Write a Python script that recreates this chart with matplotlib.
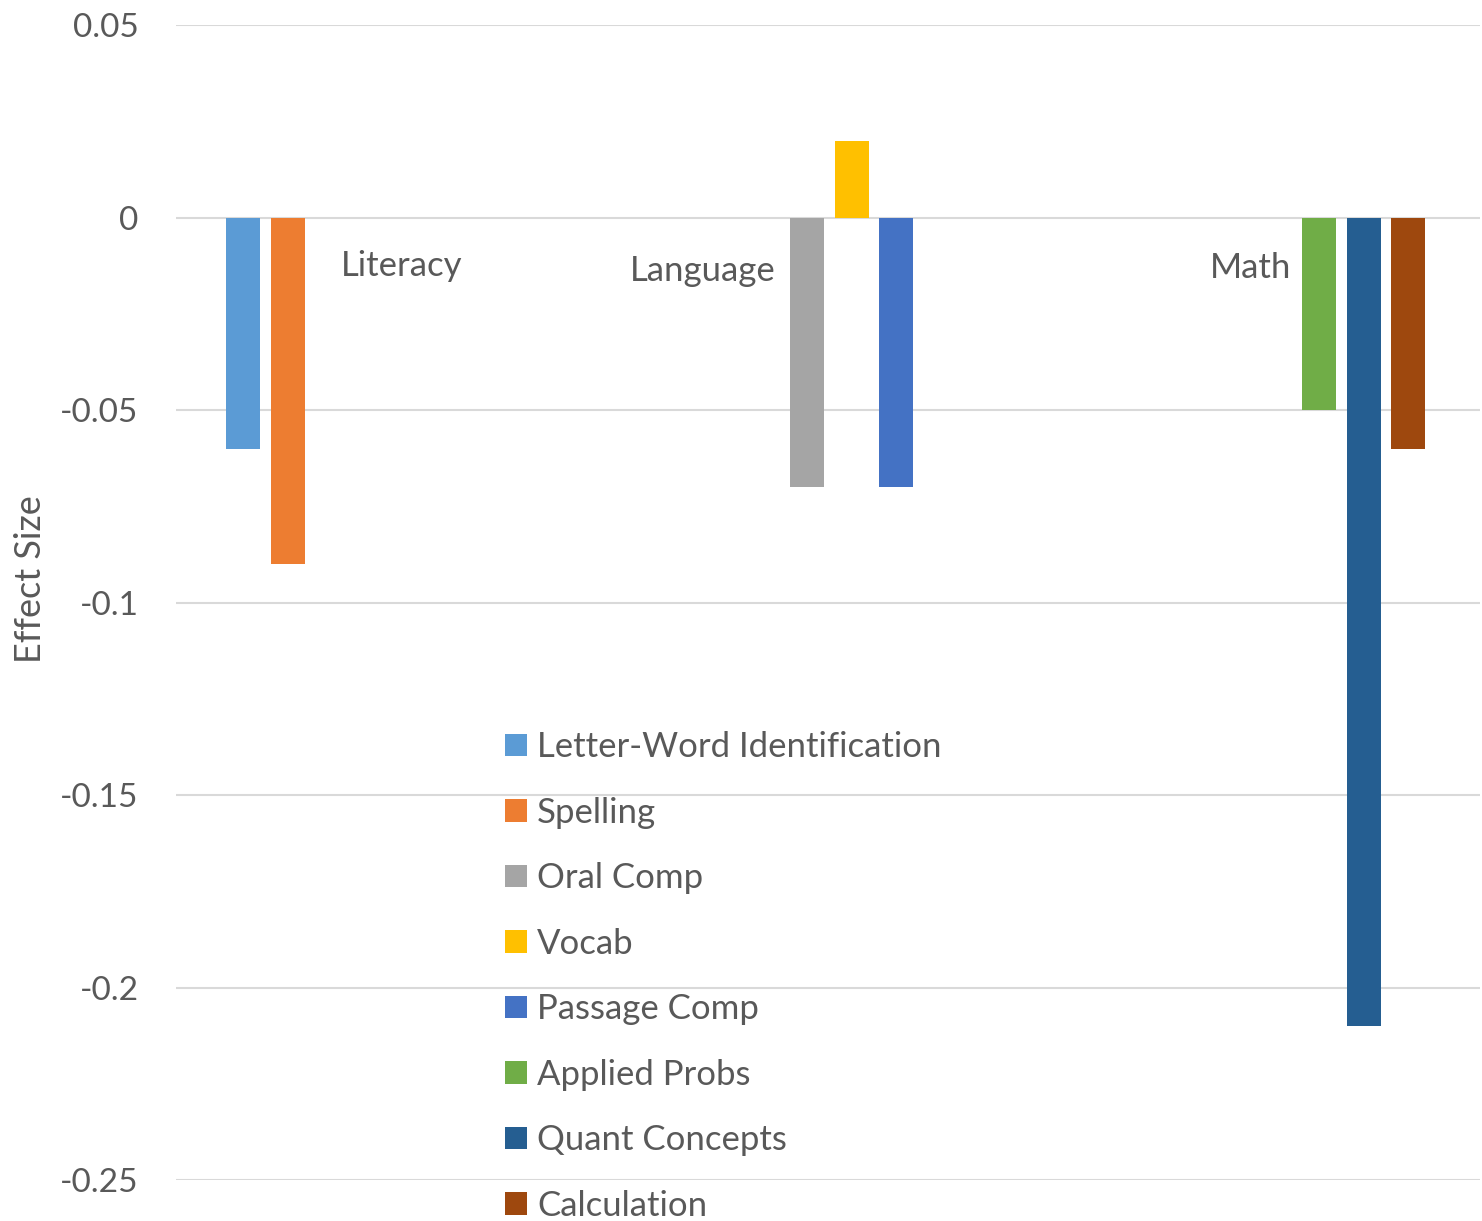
import matplotlib
matplotlib.use("Agg")
import matplotlib.pyplot as plt
from matplotlib.ticker import FuncFormatter, MultipleLocator

plt.rcParams['font.family'] = ['Lato', 'DejaVu Sans']

# effect sizes by subtest
categories = ['Literacy', 'Language', 'Math']
series_names = ['Letter-Word Identification', 'Spelling', 'Oral Comp', 'Vocab',
                'Passage Comp', 'Applied Probs', 'Quant Concepts', 'Calculation']
series_values = [-0.06, -0.09, -0.07, 0.02, -0.07, -0.05, -0.21, -0.06]
series_category = [0, 0, 1, 1, 1, 2, 2, 2]
series_colors = ['#5B9BD5', '#ED7D31', '#A5A5A5', '#FFC000',
                 '#4472C4', '#70AD47', '#255E91', '#9E480E']

# layout, in category widths
group_start = [0.152, 0.424, 0.580]
bar_pitch = 0.1005
bar_width = 0.0767
label_offset = [(0.371, -0.0151), (0.025, -0.0164), (0.334, -0.0156)]

text_color = '#595959'

fig = plt.figure(figsize=(14.82, 12.21), dpi=100)
ax = fig.add_axes([0.1188, 0.0336, 0.8799, 0.9457])

slot = [0, 0, 0]
for name, val, cat, col in zip(series_names, series_values, series_category, series_colors):
    x = cat + group_start[cat] + slot[cat] * bar_pitch
    slot[cat] += 1
    ax.bar(x, val, width=bar_width, color=col, label=name, zorder=3)

for i, cat in enumerate(categories):
    dx, y = label_offset[i]
    ax.text(i + dx, y, cat, ha='left', va='baseline', fontsize=25, color=text_color)

ax.set_xlim(0, 2.943)
ax.set_ylim(-0.25, 0.05)
ax.yaxis.set_major_locator(MultipleLocator(0.05))
ax.yaxis.set_major_formatter(FuncFormatter(lambda v, p: '{:g}'.format(round(v, 2))))
ax.yaxis.grid(True, color='#d9d9d9', linewidth=1.5, zorder=0)
ax.set_xticks([])
ax.tick_params(axis='y', length=0, pad=27, labelsize=24, labelcolor=text_color)
for s in ax.spines.values():
    s.set_visible(False)

ax.set_ylabel('Effect Size', fontsize=26, color=text_color, va='center')
ax.yaxis.set_label_coords(-0.1115, 0.52)

leg = ax.legend(loc='upper left', bbox_to_anchor=(505 / 1482, 1 - 731 / 1221),
                bbox_transform=fig.transFigure, frameon=False, fontsize=25,
                handlelength=0.62, handleheight=0.62, handletextpad=0.3,
                labelspacing=0.965, borderpad=0, borderaxespad=0)
for t in leg.get_texts():
    t.set_color(text_color)

fig.savefig('out.png', dpi=100)
